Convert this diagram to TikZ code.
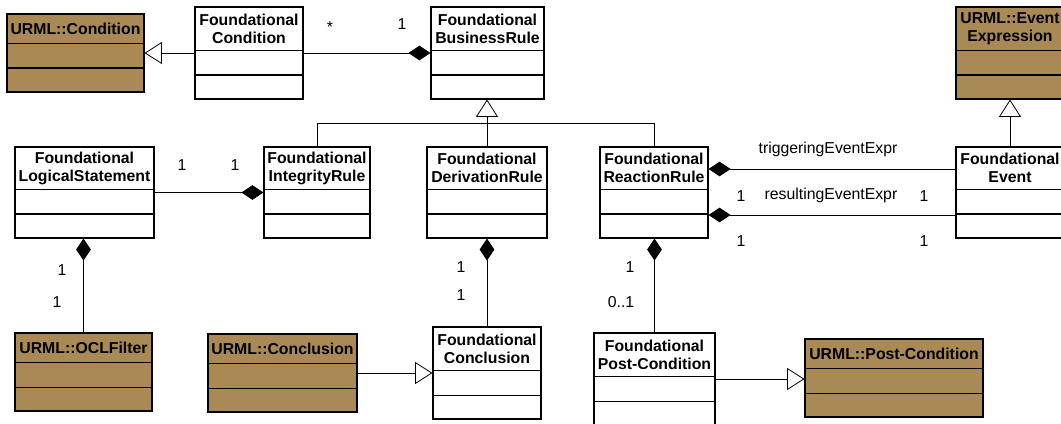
\documentclass[tikz,border=0pt]{standalone}
\usepackage{fontspec}
\setmainfont{Liberation Sans}
\usepackage{tikz}
\usetikzlibrary{calc,fit,arrows.meta}
\definecolor{urmlbrown}{RGB}{169,138,84}
\newcommand{\umlclass}[5][cls]
	{
	\node[#1, fit={(#3) (#4)}] (#2) {};
	\coordinate (#2-hdr) at ($(#2.south)+(0,-49)$);%header line
	\draw ($(#2.south west)+(0,-49)$) -- ($(#2.south east)+(0,-49)$);
	\draw ($(#2.south west)+(0,-24.5)$) -- ($(#2.south east)+(0,-24.5)$);
	\node[clstitle] (#2-title) at ($(#2.north)!0.5!(#2-hdr)$) {#5};
	}

\begin{document}
\begin{tikzpicture}[x=0.75pt, y=-0.75pt, line width=0.8pt,
    cls/.style={draw, fill=white, inner sep=0pt},
    urml/.style={cls, fill=urmlbrown},
    clstitle/.style={font=\fontsize{11.85}{13.5}\selectfont\bfseries, align=center, inner sep=0pt},
    multlabel/.style={font=\fontsize{11.85}{13.5}\selectfont, anchor=base, inner sep=0pt},
    comp/.style={line width=0.6pt, -{Diamond[length=16.5pt, width=11pt]}},
    gen/.style={line width=0.6pt, -{Triangle[open, length=13pt, width=16.5pt]}}]
    \useasboundingbox (0,0) rectangle (1061,424);

    % classes
    \umlclass[urml]{ucond}{7,14}{144,92}{URML::Condition}
    \umlclass{fcond}{195,7}{303,99}{Foundational\\Condition}
    \umlclass{fbr}{431,7}{544,99}{Foundational\\BusinessRule}
    \umlclass[urml]{uevent}{956,7}{1064,99}{URML::Event\\Expression}
    \umlclass{fls}{15,147}{154,238}{Foundational\\LogicalStatement}
    \umlclass{fir}{264,147}{370,238}{Foundational\\IntegrityRule}
    \umlclass{fdr}{427,147}{547,238}{Foundational\\DerivationRule}
    \umlclass{frr}{600,147}{708,238}{Foundational\\ReactionRule}
    \umlclass{fevent}{956,147}{1064,238}{Foundational\\Event}
    \umlclass[urml]{uocl}{15,333}{152,411}{URML::OCLFilter}
    \umlclass[urml]{uconc}{208,334}{357,412}{URML::Conclusion}
    \umlclass{fconc}{433,327}{541,419}{Foundational\\Conclusion}
    \umlclass{fpost}{594,333}{715,425}{Foundational\\Post-Condition}
    \umlclass[urml]{upost}{805,339}{983,417}{URML::Post-Condition}

    % generalizations
    \draw[gen] (fcond) -- (ucond);
    \coordinate (tree) at ($(fbr.south)+(0,24)$);
    \draw[gen] (fdr.north) -- (fdr.north |- fbr.south);
    \draw[line width=0.6pt] (fir.north) |- (tree) -| (frr.north);
    \draw[gen] (fevent) -- (uevent);
    \draw[gen] (uconc) -- (fconc);
    \draw[gen] (fpost.east) -- (fpost.east -| upost.west);

    % compositions
    \draw[comp] (fcond) -- (fbr);
    \draw[comp] (fls) -- (fir);
    \draw[comp] (uocl.north) -- (uocl.north |- fls.south);
    \draw[comp] (fconc.north) -- (fconc.north |- fdr.south);
    \draw[comp] (fpost.north) -- (fpost.north |- frr.south);
    \draw[comp] ($(fevent.west)+(0,-23.5)$) -- ($(frr.east)+(0,-23.5)$);
    \draw[comp] ($(fevent.west)+(0,22.5)$) -- ($(frr.east)+(0,22.5)$);

    % roles and multiplicities
    \node[multlabel] (trig) at (828,154) {triggeringEventExpr};
    \node[multlabel] (res) at (831,199.5) {resultingEventExpr};
    \node[multlabel] (m1) at (330,32.5) {*};
    \node[multlabel] (m2) at (402,29.5) {1};
    \node[multlabel] (m3) at (182,170.5) {1};
    \node[multlabel] (m4) at (235,170.5) {1};
    \node[multlabel] (m5) at (741,201.5) {1};
    \node[multlabel] (m6) at (924,201.5) {1};
    \node[multlabel] (m7) at (741,246.5) {1};
    \node[multlabel] (m8) at (924,246.5) {1};
    \node[multlabel] (m9) at (62,275.5) {1};
    \node[multlabel] (m10) at (57,307.5) {1};
    \node[multlabel] (m11) at (461,272.5) {1};
    \node[multlabel] (m12) at (461,300.5) {1};
    \node[multlabel] (m13) at (630,272.5) {1};
    \node[multlabel] (m14) at (621,307.5) {0..1};
\end{tikzpicture}
\end{document}
